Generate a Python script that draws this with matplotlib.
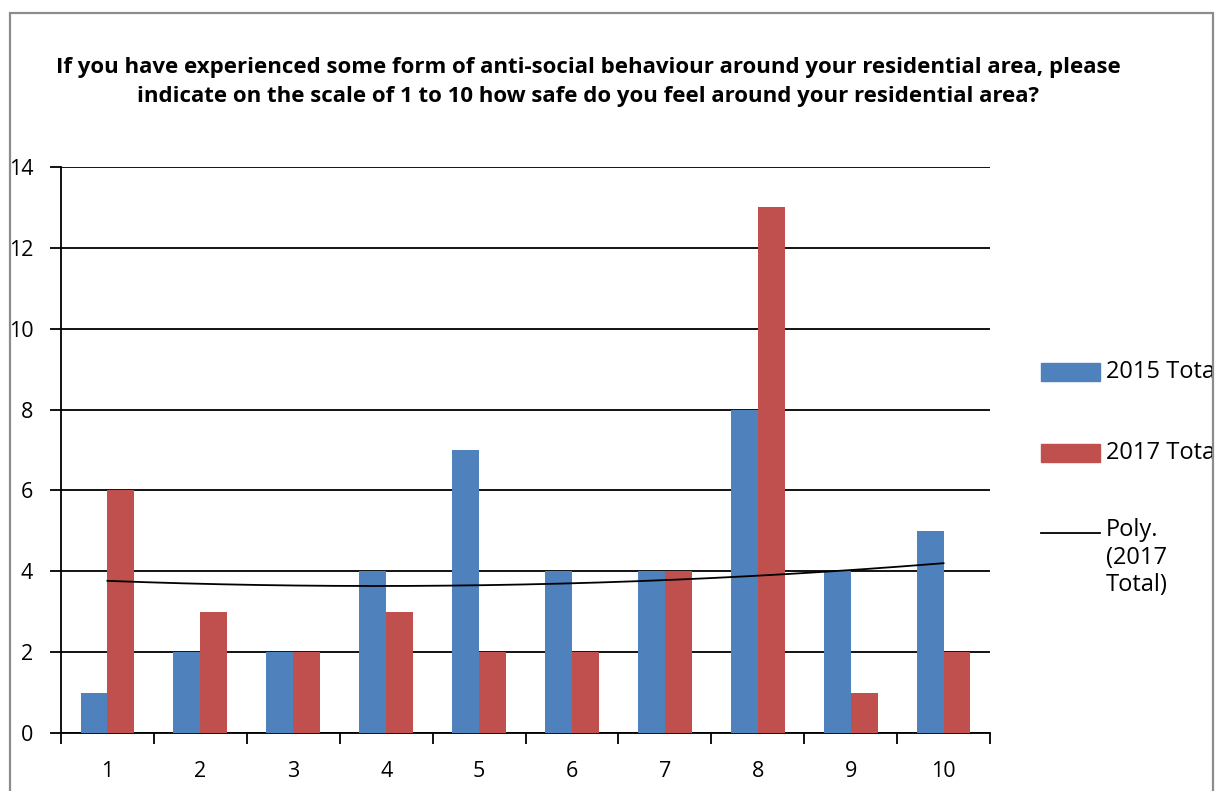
import numpy as np
import matplotlib
matplotlib.use("Agg")
import matplotlib.pyplot as plt
from matplotlib.patches import Rectangle
from matplotlib.lines import Line2D

# Survey responses: safety rating (1-10) counts by year
ratings = [1, 2, 3, 4, 5, 6, 7, 8, 9, 10]
total_2015 = [1, 2, 2, 4, 7, 4, 4, 8, 4, 5]
total_2017 = [6, 3, 2, 3, 2, 2, 4, 13, 1, 2]
series_names = ["2015 Total", "2017 Total"]
trend_label = "Poly.\n(2017\nTotal)"
title = ("If you have experienced some form of anti-social behaviour around your residential area, please\n"
         "indicate on the scale of 1 to 10 how safe do you feel around your residential area?")

BLUE = "#4F81BD"
RED = "#C0504D"
W, H = 1217, 791
FONT = "Open Sans"
TICK_SIZE = 15.5
LEGEND_SIZE = 17

plt.rcParams["font.family"] = [FONT, "DejaVu Sans"]

fig = plt.figure(figsize=(W / 100, H / 100), dpi=100)
ax = fig.add_axes([61 / W, 1 - 733 / H, (990 - 61) / W, (733 - 167) / H])

x = np.array(ratings, dtype=float)
bw = 0.29
ax.bar(x - bw / 2, total_2015, width=bw, color=BLUE, zorder=3)
ax.bar(x + bw / 2, total_2017, width=bw, color=RED, zorder=3)

# second-order polynomial trendline through the 2017 counts
coef = np.polyfit(x, total_2017, 2)
xs = np.linspace(x.min(), x.max(), 200)
ax.plot(xs, np.polyval(coef, xs), color="black", lw=1.3, zorder=4)

ax.set_xlim(0.5, 10.5)
ax.set_ylim(0, 14)
ax.set_yticks(np.arange(0, 15, 2))
ax.yaxis.grid(True, color="black", lw=1.3, zorder=0)
ax.set_axisbelow(True)

ax.set_xticks(np.arange(0.5, 11, 1))
ax.set_xticklabels([])
ax.set_xticks(x, minor=True)
ax.set_xticklabels([str(r) for r in ratings], minor=True)
ax.tick_params(axis="x", which="major", direction="out", length=8, width=1.3, color="black")
ax.tick_params(axis="x", which="minor", length=0, pad=20.5, labelsize=TICK_SIZE)
ax.tick_params(axis="y", direction="out", length=8, width=1.3, pad=12, labelsize=TICK_SIZE)

for s in ["top", "right"]:
    ax.spines[s].set_visible(False)
for s in ["left", "bottom"]:
    ax.spines[s].set_color("black")
    ax.spines[s].set_linewidth(1.3)

fig.text(588 / W, 1 - 82 / H, title, ha="center", va="center", fontsize=16,
         fontweight="bold", linespacing=1.45)

# legend on the right
def fx(px):
    return px / W

def fy(py):
    return 1 - py / H

fig.add_artist(Rectangle((fx(1041), fy(381)), 59 / W, 18 / H, color=BLUE,
                         transform=fig.transFigure))
fig.text(fx(1106), fy(372), series_names[0], va="center", ha="left", fontsize=LEGEND_SIZE)
fig.add_artist(Rectangle((fx(1041), fy(462)), 59 / W, 18 / H, color=RED,
                         transform=fig.transFigure))
fig.text(fx(1106), fy(453), series_names[1], va="center", ha="left", fontsize=LEGEND_SIZE)
fig.add_artist(Line2D([fx(1041), fx(1100)], [fy(533), fy(533)], color="black", lw=1.3,
                      transform=fig.transFigure))
fig.text(fx(1106), fy(518), trend_label, va="top", ha="left", fontsize=LEGEND_SIZE,
         linespacing=1.2)

# outer chart frame, cut at the right edge
fig.add_artist(Rectangle((fx(1213), 0), 10 / W, 1, color="white",
                         transform=fig.transFigure, zorder=20))
fig.add_artist(Rectangle((fx(10), -0.1), 1203 / W, fy(13) + 0.1, fill=False,
                         edgecolor="#8c8c8c", lw=1.6, transform=fig.transFigure, zorder=21))

fig.savefig("out.png", dpi=100)
